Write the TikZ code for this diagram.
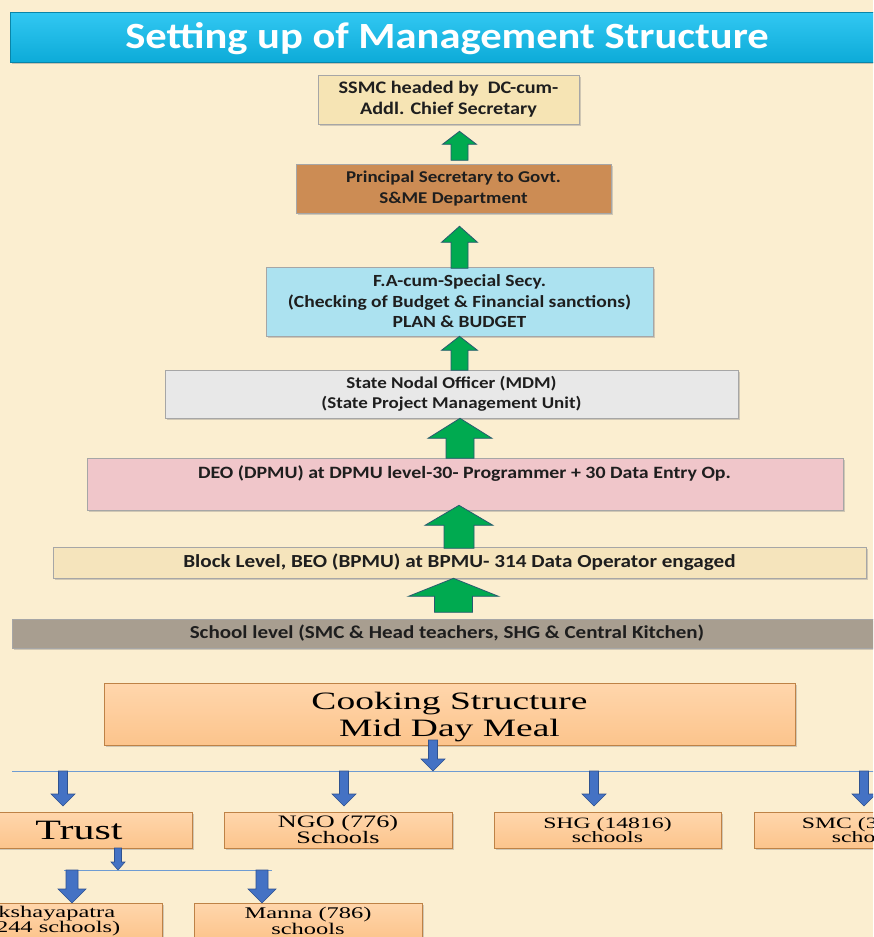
\documentclass[tikz,border=0pt]{standalone}
\usepackage{fontspec}
\setmainfont{Carlito}[FakeStretch=1.15]
\newfontfamily\cookfont{Liberation Serif}[FakeStretch=1.5]
\usetikzlibrary{shadows,calc}
\definecolor{bgc}{RGB}{251,238,208}
\definecolor{titlec}{RGB}{14,190,240}
\definecolor{ssmcc}{RGB}{246,228,180}
\definecolor{woodc}{RGB}{204,140,84}
\definecolor{waterc}{RGB}{172,226,240}
\definecolor{marblec}{RGB}{232,232,232}
\definecolor{pinkc}{RGB}{240,198,202}
\definecolor{blockc}{RGB}{245,228,188}
\definecolor{granitec}{RGB}{168,158,144}
\definecolor{peachtop}{RGB}{255,214,172}
\definecolor{peachbot}{RGB}{252,196,140}
\definecolor{peachb}{RGB}{190,130,70}
\definecolor{greenc}{RGB}{0,170,80}
\definecolor{greenb}{RGB}{40,90,110}
\definecolor{bluec}{RGB}{68,114,196}
\definecolor{blueb}{RGB}{47,82,143}
\definecolor{linec}{RGB}{110,155,210}
\definecolor{txtc}{RGB}{30,30,30}
\tikzset{
  x=1pt,y=-1pt,
  mbox/.style={rectangle,draw=black!35,line width=0.6pt,inner sep=0pt,align=center,
     font=\fontsize{16.5}{20.5}\selectfont\bfseries,text=txtc,
     drop shadow={shadow xshift=2pt,shadow yshift=-2pt,opacity=0.35}},
  cbox/.style={rectangle,draw=peachb,top color=peachtop,bottom color=peachbot,line width=0.8pt,inner sep=0pt,align=center,
     text=black,drop shadow={shadow xshift=2pt,shadow yshift=-2pt,opacity=0.35}},
  pics/uparr/.style n args={4}{code={
     \filldraw[fill=greenc,draw=greenb,line width=0.8pt]
       (0,0) -- (#2/2,#4) -- (#3/2,#4) -- (#3/2,#1) -- (-#3/2,#1) -- (-#3/2,#4) -- (-#2/2,#4) -- cycle;}},
  pics/dnarr/.style n args={4}{code={
     \filldraw[fill=bluec,draw=blueb,line width=0.6pt]
       (0,0) -- (#2/2,-#4) -- (#3/2,-#4) -- (#3/2,-#1) -- (-#3/2,-#1) -- (-#3/2,-#4) -- (-#2/2,-#4) -- cycle;}},
}
\begin{document}
\begin{tikzpicture}
\useasboundingbox (0,0) rectangle (873,937);
\clip (0,0) rectangle (873,937);
\fill[bgc] (0,0) rectangle (873,937);

% title
\node[rectangle,top color=titlec!85!white,bottom color=titlec!90!black,draw=titlec!70!black,line width=0.6pt,minimum width=872pt,minimum height=50pt,
  inner sep=0pt,drop shadow={shadow xshift=2pt,shadow yshift=-2pt,opacity=0.4}] (title) at (446,37) {};
\node[text=white,font=\fontsize{37}{40}\selectfont\bfseries] (titletxt) at (447,39) {Setting up of Management Structure};

% management boxes
\node[mbox,fill=ssmcc,minimum width=261pt,minimum height=49pt,font=\fontsize{17.6}{21}\selectfont\bfseries] (ssmc) at (448.5,99.5)
  {SSMC headed by~ DC-cum-\\Addl. Chief Secretary};
\node[mbox,fill=woodc,minimum width=315pt,minimum height=49pt] (psec) at (453.5,188.5)
  {Principal Secretary to Govt.\\S\&ME Department};
\node[mbox,fill=waterc,minimum width=387pt,minimum height=69pt,font=\fontsize{17}{20.5}\selectfont\bfseries] (fa) at (459.5,301.5)
  {F.A-cum-Special Secy.\\(Checking of Budget \& Financial sanctions)\\PLAN \& BUDGET};
\node[mbox,fill=marblec,minimum width=573pt,minimum height=48pt] (sno) at (451.5,394)
  {State Nodal Officer (MDM)\\(State Project Management Unit)};
\node[mbox,fill=pinkc,minimum width=756pt,minimum height=52pt] (deo) at (465,484) {};
\node[font=\fontsize{17.3}{20}\selectfont\bfseries,text=txtc] (deotxt) at (464.5,474)
  {DEO (DPMU) at DPMU level-30- Programmer + 30 Data Entry Op.};
\node[mbox,fill=blockc,minimum width=813pt,minimum height=31pt,font=\fontsize{18.4}{20}\selectfont\bfseries] (blk) at (459.5,562.5)
  {Block Level, BEO (BPMU) at BPMU- 314 Data Operator engaged};
\node[mbox,fill=granitec,minimum width=870pt,minimum height=29pt,font=\fontsize{18.3}{20}\selectfont\bfseries] (sch) at (447,633.5)
  {School level (SMC \& Head teachers, SHG \& Central Kitchen)};

% green up arrows
\pic at ($(ssmc.south)+(11,7)$) {uparr={29}{34}{17}{13}};
\pic at ($(psec.south)+(6,13)$) {uparr={42}{36}{17}{16}};
\pic at ($(fa.south)+(0,0)$) {uparr={34}{36}{17}{14}};
\pic at ($(sno.south)+(8.5,0)$) {uparr={40}{64}{28}{20}};
\pic at ($(deo.south)+(-6,-5)$) {uparr={43}{68}{30}{20}};
\pic at ($(blk.south)+(-6,0)$) {uparr={34}{90}{38}{18}};

% cooking structure
\node[cbox,minimum width=691pt,minimum height=62pt,font=\cookfont\fontsize{25}{27}\selectfont] (cook) at (449.5,714) {};
\node[font=\cookfont\fontsize{25}{27}\selectfont,align=center] (cooktxt) at (449.5,717)
  {Cooking Structure\\Mid Day Meal};
\coordinate (hl) at (12,771);
\coordinate (hr) at (880,771);
\draw[linec,line width=1pt] (hl) -- (hr);
\pic at (433,771) {dnarr={31}{24}{9}{12}};

\node[cbox,minimum width=226pt,minimum height=36pt,font=\cookfont\fontsize{28}{26}\selectfont] (trust) at (79,830) {Trust};
\node[cbox,minimum width=228pt,minimum height=36pt,font=\cookfont\fontsize{17.5}{16}\selectfont] (ngo) at (338,830) {NGO (776)\\Schools};
\node[cbox,minimum width=227pt,minimum height=36pt,font=\cookfont\fontsize{15.8}{14.5}\selectfont] (shg) at (607.5,830) {SHG (14816)\\schools};
\node[cbox,minimum width=227pt,minimum height=36pt,font=\cookfont\fontsize{15.8}{14.5}\selectfont] (smc) at (867.5,830) {SMC (3\hphantom{0000)}\\scho\hphantom{ols}};

\pic at (63,806) {dnarr={35}{24}{9}{12}};
\pic at (344,806) {dnarr={35}{24}{9}{12}};
\pic at (594,806) {dnarr={35}{24}{9}{12}};
\pic at (864,806) {dnarr={35}{24}{9}{12}};

\coordinate (tl) at (64,870);
\coordinate (tr) at (272,870);
\draw[linec,line width=1pt] (tl) -- (tr);
\pic at (118,870) {dnarr={22}{14}{7}{8}};

\node[cbox,minimum width=228pt,minimum height=36pt,font=\cookfont\fontsize{16.3}{14.5}\selectfont] (aksh) at (48,921)
  {\hphantom{A}kshayapatra\\\hphantom{(1}244 schools)};
\node[cbox,minimum width=228pt,minimum height=36pt,font=\cookfont\fontsize{16.3}{14.5}\selectfont] (manna) at (308,921) {Manna (786)\\schools};
\pic at (72,903) {dnarr={33}{28}{12}{14}};
\pic at (262,903) {dnarr={33}{28}{12}{14}};
\end{tikzpicture}
\end{document}
